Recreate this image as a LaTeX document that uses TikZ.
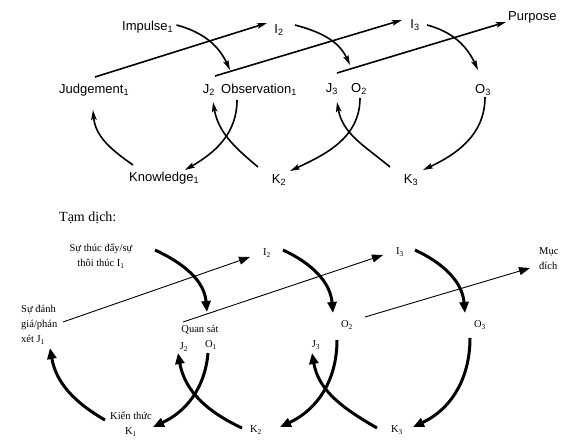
\documentclass[tikz,border=0pt]{standalone}
\usepackage{fontspec}
\setmainfont{Liberation Serif}
\newfontfamily\arialfont{Liberation Sans}
\usetikzlibrary{arrows.meta}

\begin{document}
\begin{tikzpicture}[
    x=1pt, y=1pt,
    lbl/.style={inner sep=1pt, font=\arialfont\fontsize{13}{14}\selectfont},
    vlbl/.style={inner sep=1pt, align=center, font=\fontsize{10.5}{15}\selectfont},
    tline/.style={-{Stealth[length=10pt, width=5.5pt, inset=2pt]}, line width=1.6pt},
    tarc/.style={-{Stealth[length=10pt, width=5.5pt, inset=2pt]}, line width=1.6pt},
    bline/.style={-{Triangle[length=11pt, width=8pt]}, line width=0.9pt},
    barc/.style={-{Triangle[length=11pt, width=9pt]}, line width=3pt},
]
    \useasboundingbox (0,0) rectangle (567,447);

    \node[lbl, anchor=west] (imp) at (121,420) {Impulse\textsubscript{1}};
    \node[lbl] (i2) at (279,417) {I\textsubscript{2}};
    \node[lbl] (i3) at (415,422) {I\textsubscript{3}};
    \node[lbl, anchor=west] (pur) at (507,430) {Purpose};
    \node[lbl, anchor=west] (jud) at (58,357) {Judgement\textsubscript{1}};
    \node[lbl] (j2) at (209,357) {J\textsubscript{2}};
    \node[lbl, anchor=west] (obs) at (220,357) {Observation\textsubscript{1}};
    \node[lbl] (j3) at (332,358) {J\textsubscript{3}};
    \node[lbl] (o2) at (359,358) {O\textsubscript{2}};
    \node[lbl] (o3) at (483,357) {O\textsubscript{3}};
    \node[lbl, anchor=west] (kno) at (128,269) {Knowledge\textsubscript{1}};
    \node[lbl] (k2) at (279,267) {K\textsubscript{2}};
    \node[lbl] (k3) at (411,267) {K\textsubscript{3}};

    \draw[tline] ([shift={(37,13)}]jud.west) -- ([shift={(-12,7)}]i2.center);
    \draw[tline] ([shift={(6,14)}]j2.center) -- ([shift={(-13,5)}]i3.center);
    \draw[tline] ([shift={(5,16)}]j3.center) -- ([shift={(-1,-5)}]pur.west);
    \draw[tarc] ([shift={(2,2)}]imp.east) to[out=-15, in=115] ([shift={(10,20)}]obs.west);
    \draw[tarc] ([shift={(16,5)}]i2.center) to[out=-15, in=115] ([shift={(-9,24)}]o2.center);
    \draw[tarc] ([shift={(12,0)}]i3.center) to[out=-15, in=115] ([shift={(-5,20)}]o3.center);
    \draw[tarc] ([shift={(17,-10)}]obs.west) to[out=-90, in=30] ([shift={(57,8)}]kno.west);
    \draw[tarc] ([shift={(5,13)}]kno.west) to[out=145, in=-85] ([shift={(35,-20)}]jud.west);
    \draw[tarc] ([shift={(-21,13)}]k2.center) to[out=140, in=-80] ([shift={(4,-12)}]j2.center);
    \draw[tarc] ([shift={(1,-9)}]o2.center) to[out=-90, in=25] ([shift={(11,9)}]k2.center);
    \draw[tarc] ([shift={(-21,13)}]k3.center) to[out=140, in=-80] ([shift={(5,-13)}]j3.center);
    \draw[tarc] ([shift={(2,-7)}]o3.center) to[out=-90, in=25] ([shift={(12,10)}]k3.center);

    \node[anchor=west, inner sep=1pt, font=\fontsize{14}{16}\selectfont] (tam) at (58,229) {Tạm dịch:};
    \node[vlbl] (thuc) at (101,191) {Sự thúc đẩy/sự\\thôi thúc I\textsubscript{1}};
    \node[vlbl] (bi2) at (267,194) {I\textsubscript{2}};
    \node[vlbl] (bi3) at (400,195) {I\textsubscript{3}};
    \node[vlbl, anchor=west, align=left] (muc) at (538,188) {Mục\\đích};
    \node[vlbl, anchor=west, align=left] (danh) at (20,122) {Sự đánh\\giá/phán\\xét J\textsubscript{1}};
    \node[vlbl] (quan) at (200,117) {Quan sát};
    \node[vlbl] (bo1) at (211,102) {O\textsubscript{1}};
    \node[vlbl] (bj2) at (184,100) {J\textsubscript{2}};
    \node[vlbl] (bo2) at (347,122) {O\textsubscript{2}};
    \node[vlbl] (bj3) at (316,102) {J\textsubscript{3}};
    \node[vlbl] (bo3) at (480,122) {O\textsubscript{3}};
    \node[vlbl] (kien) at (131,23) {Kiến thức\\K\textsubscript{1}};
    \node[vlbl] (bk2) at (256,17) {K\textsubscript{2}};
    \node[vlbl] (bk3) at (397,17) {K\textsubscript{3}};

    \draw[bline] ([shift={(43,3)}]danh.west) -- ([shift={(-17,-4)}]bi2.center);
    \draw[bline] ([shift={(-1,25)}]bj2.center) -- ([shift={(-17,-3)}]bi3.center);
    \draw[bline] ([shift={(18,8)}]bo2.center) -- ([shift={(-8,-9)}]muc.west);
    \draw[barc] ([shift={(54,6)}]thuc.center) to[out=-25, in=95] ([shift={(7,18)}]quan.center);
    \draw[barc] ([shift={(16,3)}]bi2.center) to[out=-25, in=95] ([shift={(-14,12)}]bo2.center);
    \draw[barc] ([shift={(15,2)}]bi3.center) to[out=-25, in=95] ([shift={(-15,12)}]bo3.center);
    \draw[barc] ([shift={(-3,-8)}]bo1.center) to[out=-95, in=25] ([shift={(22,-3)}]kien.center);
    \draw[barc] ([shift={(-26,4)}]kien.center) to[out=150, in=-80] ([shift={(30,-23)}]danh.west);
    \draw[barc] ([shift={(-14,2)}]bk2.center) to[out=155, in=-80] ([shift={(-6,-6)}]bj2.center);
    \draw[barc] ([shift={(-10,-15)}]bo2.center) to[out=-90, in=25] ([shift={(24,3)}]bk2.center);
    \draw[barc] ([shift={(-20,2)}]bk3.center) to[out=150, in=-80] ([shift={(-4,-8)}]bj3.center);
    \draw[barc] ([shift={(-10,-13)}]bo3.center) to[out=-90, in=25] ([shift={(16,3)}]bk3.center);
\end{tikzpicture}
\end{document}
